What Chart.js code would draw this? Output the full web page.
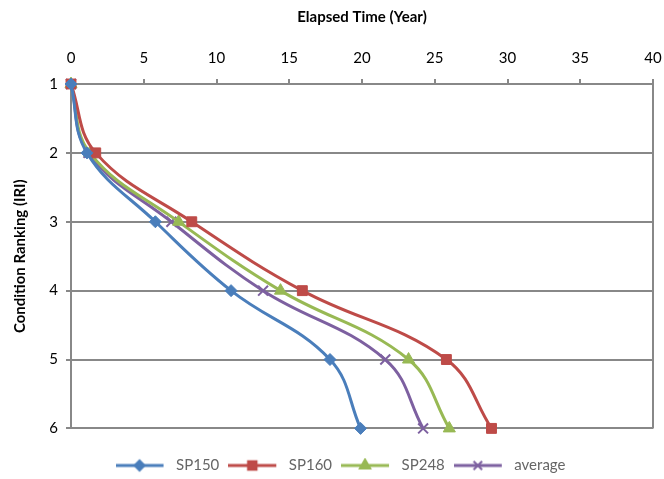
<!DOCTYPE html>
<html>
<head>
<meta charset="utf-8">
<script src="https://cdn.jsdelivr.net/npm/chart.js@4/dist/chart.umd.min.js"></script>
<style>
    html, body { margin: 0; padding: 0; background: #fff; }
    #wrap { width: 664px; height: 479px; }
</style>
</head>
<body>
<div id="wrap"><canvas id="chart"></canvas></div>
<script>
// -- Data --
const ranking = [1, 2, 3, 4, 5, 6];
const sp150 = [0, 1.1, 5.8, 11.0, 17.8, 19.9];
const sp160 = [0, 1.7, 8.3, 15.9, 25.8, 28.9];
const sp248 = [0, 1.3, 7.4, 14.4, 23.2, 26.0];
const average = [0, 1.2, 6.9, 13.2, 21.6, 24.2];
const xTicks = [0, 5, 10, 15, 20, 25, 30, 35, 40];

const gridGray = '#888888';
const fontFamily = "Lato, 'Open Sans', sans-serif";

// Builds {x, y} points from elapsed years and rankings
function toPoints(years) {
    return years.map((v, i) => ({ x: v, y: ranking[i] }));
}

const series = [
    { label: 'SP150', data: sp150, color: '#4A7EBB', style: 'rectRot', radius: 6 },
    { label: 'SP160', data: sp160, color: '#BE4B48', style: 'rect', radius: 7 },
    { label: 'SP248', data: sp248, color: '#98B954', style: 'triangle', radius: 7 },
    { label: 'average', data: average, color: '#7D60A0', style: 'crossRot', radius: 7 }
];

const datasets = series.map(s => ({
    label: s.label,
    data: toPoints(s.data),
    showLine: true,
    clip: false,
    borderColor: s.color,
    backgroundColor: s.color,
    borderWidth: 3,
    tension: 0.4,
    pointStyle: s.style,
    pointRadius: s.radius,
    pointBorderColor: s.color,
    pointBackgroundColor: s.color,
    pointBorderWidth: s.style === 'crossRot' ? 2 : 1
}));

// Legend icon: a short line with the marker in the middle
// (canvas is a bit wider than the line to leave a gap before the text)
function makeIcon(s) {
    const c = document.createElement('canvas');
    c.width = 53;
    c.height = 16;
    const ctx = c.getContext('2d');
    ctx.strokeStyle = s.color;
    ctx.fillStyle = s.color;
    ctx.lineWidth = 3;
    ctx.beginPath();
    ctx.moveTo(0, 8);
    ctx.lineTo(48, 8);
    ctx.stroke();
    ctx.lineWidth = 2;
    Chart.helpers.drawPoint(ctx, {
        pointStyle: s.style, radius: s.radius - 1, borderWidth: 2, rotation: 0
    }, 24, 8);
    return c;
}
const icons = series.map(makeIcon);

// Legend in the reference sits a little right of the canvas centre
const legendShift = {
    id: 'legendShift',
    afterLayout(chart) {
        chart.legend.left += 14;
        chart.legend.right += 14;
    }
};

new Chart(document.getElementById('chart'), {
    type: 'scatter',
    data: { datasets: datasets },
    plugins: [legendShift],
    options: {
        responsive: true,
        maintainAspectRatio: false,
        animation: false,
        layout: { padding: { left: 0, right: 11, top: 0, bottom: -4 } },
        scales: {
            x: {
                type: 'linear',
                position: 'top',
                min: 0,
                max: 40,
                afterBuildTicks: axis => { axis.ticks = xTicks.map(v => ({ value: v })); },
                afterFit: axis => {
                    axis.height = 84;
                    // don't let the end labels eat into the plot width
                    axis.paddingLeft = 0;
                    axis.paddingRight = 0;
                },
                title: {
                    display: true,
                    text: 'Elapsed Time (Year)',
                    color: '#000',
                    font: { family: fontFamily, size: 15, weight: 'bold' },
                    padding: { top: 8, bottom: 6 }
                },
                ticks: {
                    color: '#000',
                    font: { family: fontFamily, size: 15 },
                    padding: 12
                },
                grid: {
                    color: ctx => (ctx.tick && ctx.tick.value === 40) ? gridGray : 'transparent',
                    tickColor: gridGray,
                    tickLength: 5,
                    lineWidth: 2
                },
                border: { color: gridGray, width: 2 }
            },
            y: {
                type: 'linear',
                reverse: true,
                min: 1,
                max: 6,
                afterFit: axis => { axis.width = 71; },
                title: {
                    display: true,
                    text: 'Condition Ranking (IRI)',
                    color: '#000',
                    font: { family: fontFamily, size: 15, weight: 'bold' },
                    padding: { top: 11, bottom: 4 }
                },
                ticks: {
                    stepSize: 1,
                    color: '#000',
                    font: { family: fontFamily, size: 15 },
                    padding: 8
                },
                grid: {
                    color: gridGray,
                    tickColor: gridGray,
                    tickLength: 5,
                    lineWidth: 2
                },
                border: { color: gridGray, width: 2 }
            }
        },
        plugins: {
            legend: {
                position: 'bottom',
                // empty title only pushes the row down a little
                title: { display: true, text: '', font: { size: 8 }, padding: { top: 6, bottom: 5 } },
                labels: {
                    usePointStyle: true,
                    pointStyleWidth: 53,
                    color: '#000',
                    font: { family: fontFamily, size: 15 },
                    padding: 9,
                    generateLabels: chart => series.map((s, i) => ({
                        text: s.label,
                        pointStyle: icons[i],
                        fillStyle: s.color,
                        strokeStyle: s.color,
                        lineWidth: 0,
                        hidden: false,
                        datasetIndex: i
                    }))
                },
                onClick: (e) => e.native && e.native.stopPropagation()
            },
            tooltip: { enabled: false }
        }
    }
});
</script>
</body>
</html>
